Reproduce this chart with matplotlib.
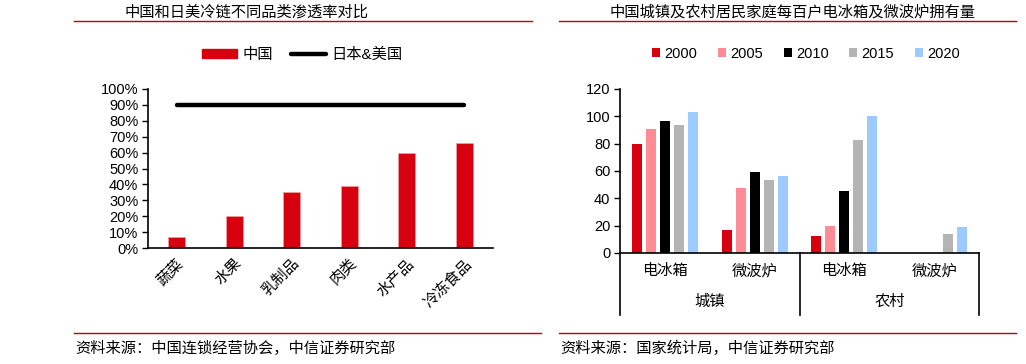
import matplotlib
matplotlib.use("Agg")
import matplotlib.pyplot as plt
from matplotlib.lines import Line2D
from matplotlib.patches import Patch
import matplotlib.transforms as mtransforms
import numpy as np

plt.rcParams['font.family'] = ['Liberation Sans', 'Noto Sans CJK SC', 'DejaVu Sans']

# left chart data
cats = ['蔬菜', '水果', '乳制品', '肉类', '水产品', '冷冻食品']
china = [0.07, 0.20, 0.35, 0.39, 0.60, 0.66]
jp_us = [0.90] * 6

# right chart data
years = ['2000', '2005', '2010', '2015', '2020']
items = ['电冰箱', '微波炉', '电冰箱', '微波炉']
areas = ['城镇', '农村']
own = {
    '2000': [80.1, 17.1, 12.3, 0],
    '2005': [90.7, 47.6, 20.1, 0],
    '2010': [96.6, 59.0, 45.2, 0],
    '2015': [94.0, 53.5, 82.6, 14.2],
    '2020': [103.1, 56.0, 100.1, 19.0],
}
year_colors = ['#D7000F', '#FF8C94', '#000000', '#B4B4B4', '#9DCBFF']

W, H = 1026, 364
fig = plt.figure(figsize=(W / 100, H / 100), dpi=100)
RED = '#D7000F'
LINE_RED = '#C00000'
FS = 11      # chinese text
NUM = 10.5   # numbers


def px(x0, y_top, x1, y_bot):
    return [x0 / W, 1 - y_bot / H, (x1 - x0) / W, (y_bot - y_top) / H]


# header / footer decorations
fig.add_artist(Line2D([74 / W, 532 / W], [1 - 21 / H] * 2, color=LINE_RED, lw=1))
fig.add_artist(Line2D([559 / W, 1016 / W], [1 - 21 / H] * 2, color=LINE_RED, lw=1))
fig.add_artist(Line2D([74 / W, 541 / W], [1 - 333 / H] * 2, color=LINE_RED, lw=1))
fig.add_artist(Line2D([559 / W, 1016 / W], [1 - 333 / H] * 2, color=LINE_RED, lw=1))
fig.text(247 / W, 1 - 12 / H, '中国和日美冷链不同品类渗透率对比', ha='center', va='center', fontsize=FS)
fig.text(793 / W, 1 - 12 / H, '中国城镇及农村居民家庭每百户电冰箱及微波炉拥有量', ha='center', va='center', fontsize=FS)
fig.text(75 / W, 1 - 348 / H, '资料来源：中国连锁经营协会，中信证券研究部', ha='left', va='center', fontsize=FS)
fig.text(560 / W, 1 - 348 / H, '资料来源：国家统计局，中信证券研究部', ha='left', va='center', fontsize=FS)

# ---- left chart
ax1 = fig.add_axes(px(148, 89, 493, 248))
x = np.arange(len(cats)) + 0.5
ax1.bar(x, china, width=0.3, color=RED, edgecolor='#F4A0A6', linewidth=0.5, label='中国', zorder=2)
ax1.plot(x, jp_us, color='black', lw=3.2, solid_capstyle='round', label='日本&美国', zorder=3)
ax1.set_xlim(0, len(cats))
ax1.set_ylim(0, 1.0)
ax1.set_yticks(np.arange(0, 1.01, 0.1))
ax1.set_yticklabels([f'{int(round(v * 100))}%' for v in np.arange(0, 1.01, 0.1)], fontsize=NUM)
ax1.set_xticks(x)
ax1.set_xticklabels(cats, rotation=45, ha='right', rotation_mode='anchor', fontsize=FS)
ax1.tick_params(axis='x', length=0, pad=6)
ax1.tick_params(axis='y', length=4, width=1, direction='out', pad=3)
for s in ['top', 'right']:
    ax1.spines[s].set_visible(False)
for s in ['left', 'bottom']:
    ax1.spines[s].set_linewidth(1.2)
h1 = [Patch(color=RED), Line2D([0], [0], color='black', lw=3.2, solid_capstyle='round')]
ax1.legend(h1, ['中国', '日本&美国'], loc='center', bbox_to_anchor=(302 / W, 1 - 55 / H),
           bbox_transform=fig.transFigure, ncol=2, frameon=False, fontsize=FS,
           handlelength=2.3, handleheight=0.5, columnspacing=1.2, handletextpad=0.35)

# ---- right chart
ax2 = fig.add_axes(px(620, 89, 979, 253))
gx = np.arange(len(items)) + 0.5
step = 0.156
for i, yr in enumerate(years):
    vals = own[yr]
    ax2.bar(gx + (i - 2) * step, vals, width=0.11, color=year_colors[i], label=yr, zorder=2)
ax2.set_xlim(0, len(items))
ax2.set_ylim(0, 120)
ax2.set_yticks(range(0, 121, 20))
ax2.tick_params(axis='y', labelsize=NUM, length=4, width=1, direction='out', pad=3)
ax2.set_xticks([])
for s in ['top', 'right']:
    ax2.spines[s].set_visible(False)
for s in ['left', 'bottom']:
    ax2.spines[s].set_linewidth(1.2)

trans = mtransforms.blended_transform_factory(ax2.transData, ax2.transAxes)
for xv in [0, 2, 4]:
    ax2.add_artist(Line2D([xv, xv], [0, -62 / 164], color='black', lw=1.2, transform=trans, clip_on=False))
for xv, name in zip(gx, items):
    ax2.text(xv, -18 / 164, name, transform=trans, ha='center', va='center', fontsize=FS)
for k, name in enumerate(areas):
    ax2.text(2 * k + 1, -49 / 164, name, transform=trans, ha='center', va='center', fontsize=FS)

ax2.legend(loc='center', bbox_to_anchor=(806 / W, 1 - 54 / H), bbox_transform=fig.transFigure,
           ncol=5, frameon=False, fontsize=NUM, handlelength=0.55, handleheight=0.55,
           handletextpad=0.3, columnspacing=1.4)

fig.savefig('out.png', dpi=100)
